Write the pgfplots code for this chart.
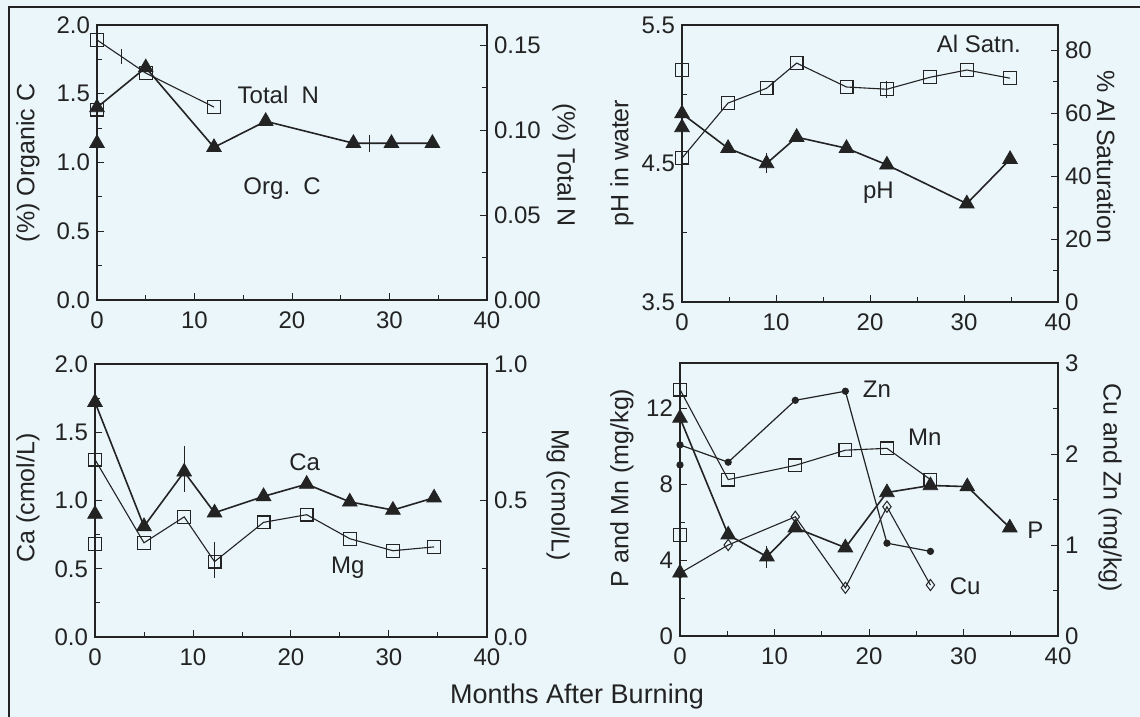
\documentclass[border=0pt]{standalone}
\usepackage{fontspec}
\setmainfont{Liberation Sans}
\usepackage{pgfplots}
\pgfplotsset{compat=1.18}
\definecolor{bg}{RGB}{234,246,250}
\definecolor{ink}{RGB}{35,35,35}
\tikzset{lab/.style={font=\fontsize{12.5}{15}\selectfont, text=ink},
         inlab/.style={font=\fontsize{12}{14}\selectfont, text=ink}}
\pgfplotsset{
  panel/.style={scale only axis, xmin=0, xmax=40, xtick={0,10,20,30,40}, minor x tick num=1,
    tick align=inside, clip=false,
    axis line style={ink, line width=0.6pt},
    every tick/.style={ink, line width=0.5pt},
    major tick length=3.5pt, minor tick length=2.5pt,
    tick label style={font=\fontsize{12}{14}\selectfont, text=ink},
    /pgf/number format/assume math mode=true,
    xticklabel style={yshift=-2.5pt}},
  leftax/.style={panel, xtick pos=left, ytick pos=left},
  rightax/.style={panel, axis x line=none, axis y line*=right},
  tri/.style={ink, line width=0.8pt, mark=triangle*, mark size=4.2pt, mark options={fill=ink, solid, line width=0.4pt}},
  sq/.style={ink, line width=0.55pt, mark=square, mark size=3.2pt, mark options={fill=bg, solid, line width=0.6pt}},
  dia/.style={ink, line width=0.55pt, mark=diamond, mark size=2.8pt, mark options={fill=bg, solid, line width=0.5pt}},
  dot/.style={ink, line width=0.6pt, mark=*, mark size=1.5pt, mark options={fill=ink, solid}},
  bar/.style={ink, line width=0.5pt, only marks, mark=|, mark options={solid}},
}
\begin{document}
\begin{tikzpicture}
\fill[bg] (0pt,0pt) rectangle (570pt,358.5pt);
\draw[ink, line width=1pt] (4.5pt,0pt) -- (4.5pt,355pt) -- (570pt,355pt);

% ---------------- Panel 1: Organic C / Total N
\begin{axis}[leftax, at={(48.5pt,208.5pt)}, anchor=south west, width=195pt, height=137.5pt,
  ymin=0, ymax=2.0, ytick={0,0.5,1.0,1.5,2.0}, minor y tick num=1,
  yticklabel style={/pgf/number format/.cd, fixed, fixed zerofill, precision=1}]
\addplot[tri] coordinates {(0,1.40)(5,1.69)(12,1.11)(17.3,1.30)(26.3,1.14)(30.2,1.14)(34.4,1.14)};
\addplot[tri, only marks] coordinates {(0,1.14)};
\addplot[bar, mark size=4.25pt] coordinates {(28,1.14)};
\node[inlab, anchor=west] at (axis cs:13.7,1.49) {Total\ \ N};
\node[inlab, anchor=west] at (axis cs:14.3,0.81) {Org.\ \ C};
\end{axis}
\begin{axis}[rightax, at={(48.5pt,208.5pt)}, anchor=south west, width=195pt, height=137.5pt,
  ymin=0, ymax=0.1618, ytick={0,0.05,0.10,0.15}, minor y tick num=1,
  yticklabel style={/pgf/number format/.cd, fixed, fixed zerofill, precision=2}]
\addplot[sq] coordinates {(0,0.153)(5,0.1335)(12,0.1135)};
\addplot[sq, only marks] coordinates {(0,0.112)};
\addplot[bar, mark size=3.75pt] coordinates {(2.5,0.143)};
\end{axis}

% ---------------- Panel 2: pH / Al saturation
\begin{axis}[leftax, at={(341pt,207.5pt)}, anchor=south west, width=188pt, height=138.5pt,
  ymin=3.5, ymax=5.5, ytick={3.5,4.5,5.5}, minor y tick num=1,
  yticklabel style={/pgf/number format/.cd, fixed, fixed zerofill, precision=1}]
\addplot[tri] coordinates {(0,4.86)(4.9,4.61)(9,4.50)(12.2,4.69)(17.5,4.61)(21.8,4.49)(30.3,4.21)(34.9,4.53)};
\addplot[tri, only marks] coordinates {(0,4.76)};
\addplot[bar, mark size=5pt] coordinates {(9,4.50)};
\node[inlab, anchor=east] at (axis cs:36.8,5.36) {Al Satn.};
\node[inlab] at (axis cs:20.9,4.29) {pH};
\end{axis}
\begin{axis}[rightax, at={(341pt,207.5pt)}, anchor=south west, width=188pt, height=138.5pt,
  ymin=0, ymax=88, ytick={0,20,40,60,80}, minor y tick num=1]
\addplot[sq] coordinates {(0,45.7)(4.9,63.2)(9,67.9)(12.2,75.9)(17.5,68.3)(21.8,67.6)(26.4,71.4)(30.3,73.7)(34.9,71.1)};
\addplot[sq, only marks] coordinates {(0,73.7)};
\addplot[bar, mark size=4.25pt] coordinates {(21.8,67.6)};
\end{axis}

% ---------------- Panel 3: Ca / Mg
\begin{axis}[leftax, at={(47.5pt,40pt)}, anchor=south west, width=196pt, height=136.5pt,
  ymin=0, ymax=2.0, ytick={0,0.5,1.0,1.5,2.0}, minor y tick num=1,
  yticklabel style={/pgf/number format/.cd, fixed, fixed zerofill, precision=1}]
\addplot[tri] coordinates {(0,1.72)(5,0.81)(9.1,1.21)(12.2,0.91)(17.2,1.03)(21.6,1.12)(26,0.99)(30.4,0.93)(34.6,1.02)};
\addplot[tri, only marks] coordinates {(0,0.90)};
\addplot[bar, mark size=11.5pt] coordinates {(9.1,1.23)};
\node[inlab] at (axis cs:21.4,1.28) {Ca};
\node[inlab] at (axis cs:25.8,0.51) {Mg};
\end{axis}
\begin{axis}[rightax, at={(47.5pt,40pt)}, anchor=south west, width=196pt, height=136.5pt,
  ymin=0, ymax=1.0, ytick={0,0.5,1.0}, minor y tick num=1,
  yticklabel style={/pgf/number format/.cd, fixed, fixed zerofill, precision=1}]
\addplot[sq] coordinates {(0,0.65)(5,0.345)(9.1,0.44)(12.2,0.276)(17.2,0.42)(21.6,0.448)(26,0.36)(30.4,0.316)(34.6,0.33)};
\addplot[sq, only marks] coordinates {(0,0.34)};
\addplot[bar, mark size=9pt] coordinates {(12.2,0.283)};
\end{axis}

% ---------------- Panel 4: P, Mn / Cu, Zn
\begin{axis}[leftax, at={(340pt,40.5pt)}, anchor=south west, width=189pt, height=136.5pt,
  ymin=0, ymax=14.4, ytick={0,4,8,12}, minor y tick num=1]
\addplot[sq] coordinates {(0,13.0)(5.1,8.25)(12.2,9.0)(17.5,9.8)(21.9,9.9)(26.5,8.25)};
\addplot[sq, only marks] coordinates {(0,5.34)};
\addplot[tri] coordinates {(0,11.5)(5.1,5.34)(9.2,4.18)(12.2,5.71)(17.5,4.66)(21.9,7.57)(26.5,7.94)(30.4,7.88)(34.9,5.71)};
\addplot[tri, only marks] coordinates {(0,3.33)};
\addplot[bar, mark size=5.5pt] coordinates {(9.2,4.18)};
\node[inlab, anchor=west] at (axis cs:18.6,13.0) {Zn};
\node[inlab, anchor=west] at (axis cs:23.4,10.5) {Mn};
\node[inlab, anchor=west] at (axis cs:36.0,5.6) {P};
\node[inlab, anchor=west] at (axis cs:27.8,2.6) {Cu};
\end{axis}
\begin{axis}[rightax, at={(340pt,40.5pt)}, anchor=south west, width=189pt, height=136.5pt,
  ymin=0, ymax=3, ytick={0,1,2,3}, minor y tick num=1]
\addplot[dot] coordinates {(0,2.10)(5.1,1.91)(12.2,2.59)(17.5,2.69)(21.9,1.02)(26.5,0.93)};
\addplot[dot, only marks] coordinates {(0,1.88)};
\addplot[dia] coordinates {(0,0.69)(5.1,1.0)(12.2,1.31)(17.5,0.53)(21.9,1.42)(26.5,0.56)};
\end{axis}

% ---------------- axis titles
\node[lab, rotate=90] at (14pt,277pt) {(\%) Organic C};
\node[lab, rotate=-90] at (282pt,276pt) {(\%) Total N};
\node[lab, rotate=90] at (311pt,277pt) {pH in water};
\node[lab, rotate=-90] at (553pt,280pt) {\% Al Saturation};
\node[lab, rotate=90] at (14pt,109.5pt) {Ca (cmol/L)};
\node[lab, rotate=-90] at (279pt,111pt) {Mg (cmol/L)};
\node[lab, rotate=90] at (311pt,114.5pt) {P and Mn (mg/kg)};
\node[lab, rotate=-90] at (555pt,114.5pt) {Cu and Zn (mg/kg)};
\node[font=\fontsize{13.5}{16}\selectfont, text=ink] at (288.5pt,10pt) {Months After Burning};
\pgfresetboundingbox
\path[use as bounding box] (0pt,0pt) rectangle (570pt,358.5pt);
\end{tikzpicture}
\end{document}
